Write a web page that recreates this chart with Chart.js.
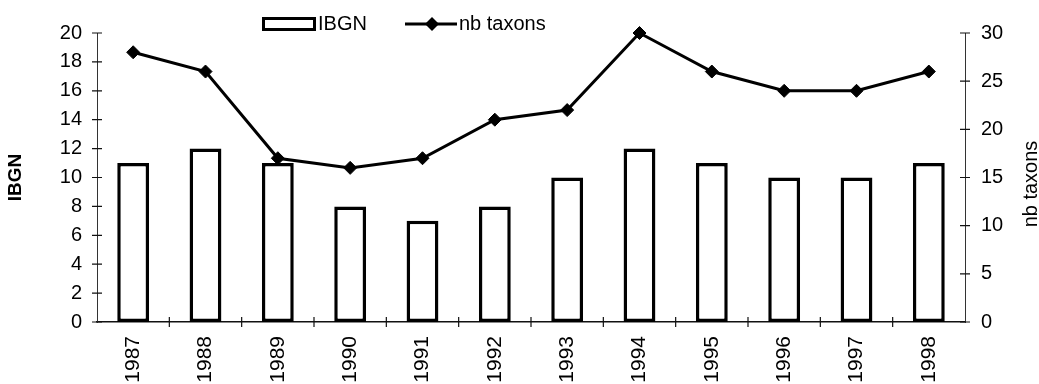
<!DOCTYPE html>
<html>
<head>
<meta charset="utf-8">
<script src="https://cdn.jsdelivr.net/npm/chart.js@4"></script>
<style>
  html, body { margin: 0; padding: 0; background: #fff; }
  #wrap { width: 1039px; height: 384px; }
</style>
</head>
<body>
<div id="wrap"><canvas id="ibgnChart" width="1039" height="384"></canvas></div>
<script>
// Data
const years = ['1987', '1988', '1989', '1990', '1991', '1992', '1993', '1994', '1995', '1996', '1997', '1998'];
const ibgnValues = [11, 12, 11, 8, 7, 8, 10, 12, 11, 10, 10, 11];
const taxonValues = [28, 26, 17, 16, 17, 21, 22, 30, 26, 24, 24, 26];
// axis ranges
const ibgnAxis = [0, 20, 2];   // min, max, step
const taxonAxis = [0, 30, 5];

const FONT = '"Liberation Sans", Arial, sans-serif';
Chart.defaults.font.family = FONT;
Chart.defaults.color = '#000';

// legend + right title + crossing tick marks (excel style)
const decorPlugin = {
    id: 'decor',
    afterDraw(chart) {
        const ctx = chart.ctx;
        const xs = chart.scales.x, yl = chart.scales.y, yr = chart.scales.y1;
        ctx.save();
        ctx.strokeStyle = '#111';
        ctx.lineWidth = 1.2;
        ctx.beginPath();
        yl.ticks.forEach(t => {
            const py = yl.getPixelForValue(t.value);
            ctx.moveTo(yl.right - 5, py); ctx.lineTo(yl.right + 5, py);
        });
        yr.ticks.forEach(t => {
            const py = yr.getPixelForValue(t.value);
            ctx.moveTo(yr.left - 5, py); ctx.lineTo(yr.left + 5, py);
        });
        for (let i = 1; i < years.length; i++) {
            const px = (xs.getPixelForValue(i - 1) + xs.getPixelForValue(i)) / 2;
            ctx.moveTo(px, xs.top - 5); ctx.lineTo(px, xs.top + 5);
        }
        ctx.stroke();

        // legend
        ctx.fillStyle = '#000';
        ctx.font = '20px ' + FONT;
        ctx.textBaseline = 'middle';
        ctx.lineWidth = 3;
        ctx.strokeStyle = '#000';
        ctx.strokeRect(263.5, 18.5, 51, 11);
        ctx.fillText('IBGN', 318, 24);
        ctx.beginPath();
        ctx.moveTo(405, 24); ctx.lineTo(457, 24);
        ctx.stroke();
        ctx.beginPath();
        ctx.moveTo(425, 24); ctx.lineTo(432, 17); ctx.lineTo(439, 24); ctx.lineTo(432, 31);
        ctx.closePath();
        ctx.fill();
        ctx.fillText('nb taxons', 459, 24);

        // right axis title, reading bottom to top
        ctx.translate(1031, 184);
        ctx.rotate(-Math.PI / 2);
        ctx.textAlign = 'center';
        ctx.fillText('nb taxons', 0, 0);
        ctx.restore();
    }
};

new Chart(document.getElementById('ibgnChart'), {
    data: {
        labels: years,
        datasets: [
            {
                type: 'line',
                label: 'nb taxons',
                data: taxonValues,
                yAxisID: 'y1',
                borderColor: '#000',
                borderWidth: 3,
                tension: 0,
                pointStyle: 'rectRot',
                pointRadius: 6.5,
                pointBackgroundColor: '#000',
                pointBorderColor: '#000',
                pointBorderWidth: 1,
                clip: false,
                order: 0
            },
            {
                type: 'bar',
                label: 'IBGN',
                data: ibgnValues,
                yAxisID: 'y',
                backgroundColor: '#fff',
                borderColor: '#000',
                borderWidth: 3.5,
                borderSkipped: false,
                barPercentage: 0.44,
                categoryPercentage: 1,
                order: 1
            }
        ]
    },
    options: {
        responsive: false,
        animation: false,
        events: [],
        layout: { padding: { top: 33, left: 0, right: 0, bottom: 0 } },
        plugins: {
            legend: { display: false },
            tooltip: { enabled: false }
        },
        scales: {
            x: {
                offset: true,
                grid: { display: false, drawTicks: false },
                border: { color: '#111', width: 1.5 },
                ticks: { maxRotation: 90, minRotation: 90, padding: 14, font: { size: 21 } },
                afterFit(scale) { scale.height = 62; }
            },
            y: {
                position: 'left',
                min: ibgnAxis[0],
                max: ibgnAxis[1],
                grid: { display: false, drawTicks: false },
                border: { color: '#333', width: 1, dash: [4, 3] },
                ticks: { stepSize: ibgnAxis[2], padding: 15, font: { size: 20 } },
                title: { display: true, text: 'IBGN', font: { size: 19, weight: 'bold' }, padding: { top: 4, bottom: 0 } },
                afterFit(scale) { scale.width = 97; }
            },
            y1: {
                position: 'right',
                min: taxonAxis[0],
                max: taxonAxis[1],
                grid: { display: false, drawTicks: false },
                border: { color: '#333', width: 1, dash: [4, 3] },
                ticks: { stepSize: taxonAxis[2], padding: 16, font: { size: 20 } },
                afterFit(scale) { scale.width = 74; }
            }
        }
    },
    plugins: [decorPlugin]
});
</script>
</body>
</html>
